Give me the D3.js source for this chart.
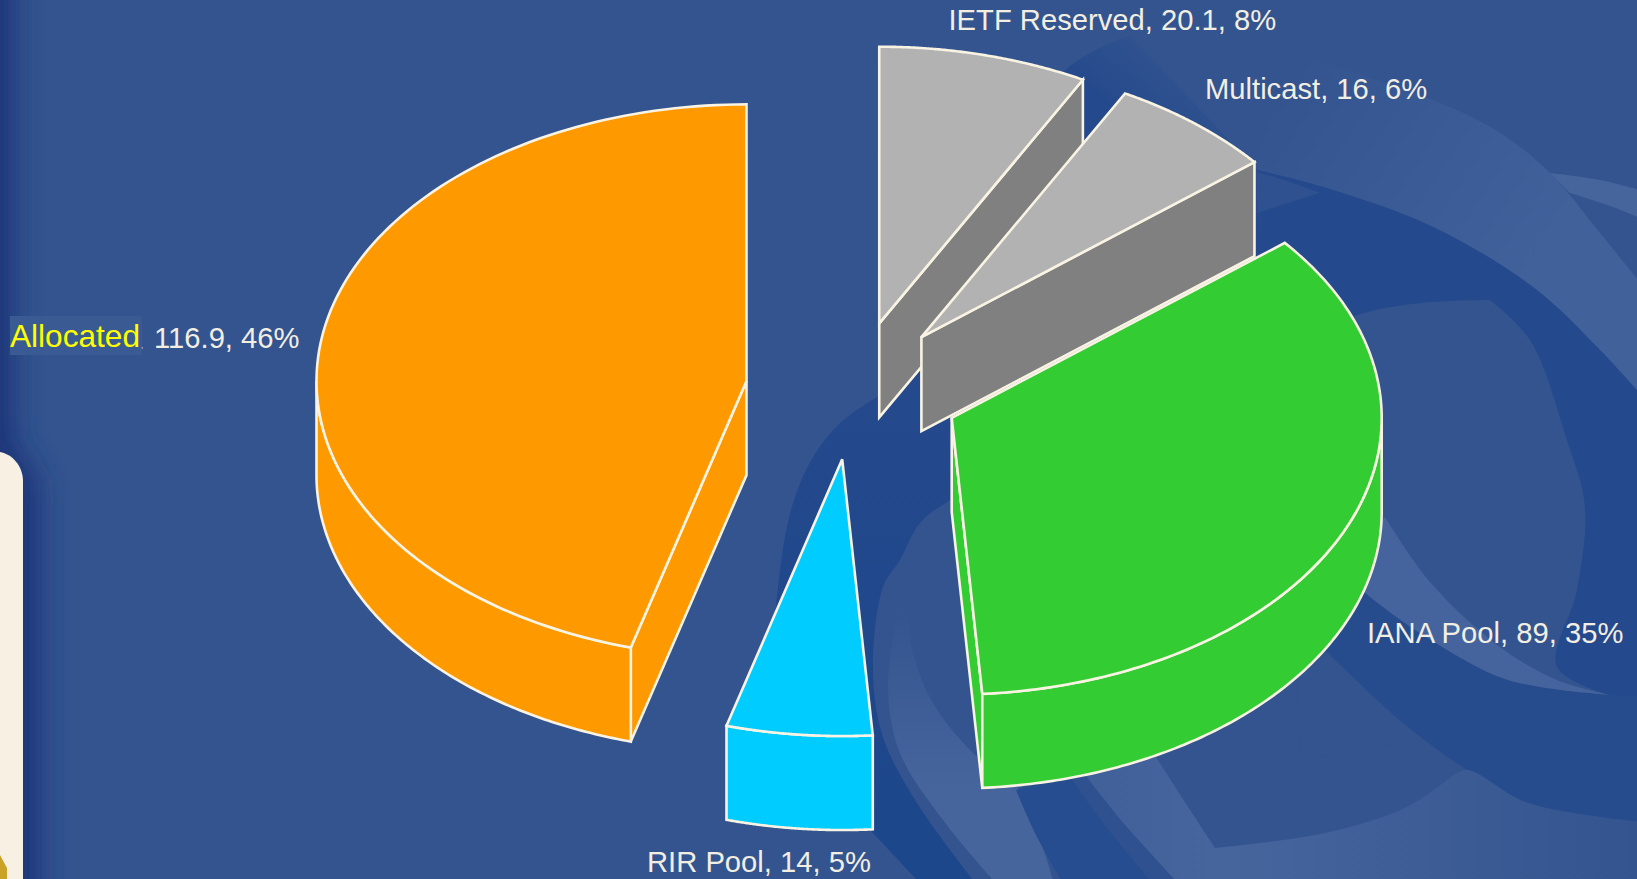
<!DOCTYPE html>
<html>
<head>
<meta charset="utf-8">
<style>
html,body{margin:0;padding:0;background:#33548F;overflow:hidden}
svg{display:block}
text{font-family:"Liberation Sans",Arial,sans-serif}
</style>
<script src="https://d3js.org/d3.v7.min.js"></script>
</head>
<body>
<svg id="c" width="1637" height="879"></svg>
<script>
// ---- data ----
const categories = ["IETF Reserved", "Multicast", "IANA Pool", "RIR Pool", "Allocated"];
const values     = [20.1, 16, 89, 14, 116.9];
const percents   = [8, 6, 35, 5, 46];
const topColors  = ["#B2B2B2", "#B2B2B2", "#33CC33", "#00CCFF", "#FF9900"];
const sideColors = ["#808080", "#808080", "#33CC33", "#00CCFF", "#FF9900"];

// ---- layout ----
const W = 1637, H = 879;
const cx = 853, cy = 390.5, rx = 430, ry = 276.7, depth = 94, explode = 0.25;
const stroke = "#F8F3E3", strokeW = 2.6, textColor = "#F2EEE2";
const fontSize = 29.2;
const labelPos = [[948.5, 30], [1205, 99], [1367, 643], [647, 872], [154, 348]];
const drawOrder = [0, 1, 4, 3, 2];

const svg = d3.select("#c");
const defs = svg.append("defs");
const gradient = (id, x1, y1, x2, y2, stops) => {
  const g = defs.append("linearGradient").attr("id", id).attr("gradientUnits", "userSpaceOnUse")
    .attr("x1", x1).attr("y1", y1).attr("x2", x2).attr("y2", y2);
  stops.forEach(s => g.append("stop").attr("offset", s[0]).attr("stop-color", s[1]).attr("stop-opacity", s[2] === undefined ? 1 : s[2]));
};
gradient("wedge", 1190, 60, 1130, 130, [[0, "#24498C", 0], [1, "#24498C", 1]]);
gradient("band", 1300, 60, 1560, 230, [[0, "#41619B", 0], [1, "#41619B", 1]]);
gradient("l2", 0, 610, 0, 790, [[0, "#47659D", 0], [1, "#47659D", 1]]);
gradient("la", 1083, 0, 1637, 0, [[0, "#40609A", 1], [0.25, "#47659D", 1], [1, "#33548F", 1]]);
gradient("ring", 0, 400, 0, 860, [[0, "#24498C", 1], [1, "#1C478B", 1]]);
const blur = defs.append("filter").attr("id", "soft").attr("x", "-100%").attr("width", "300%");
blur.append("feGaussianBlur").attr("stdDeviation", 14);

// ---- background ----
svg.append("rect").attr("width", W).attr("height", H).attr("fill", "#33548F");
const smooth = d3.line().curve(d3.curveCatmullRom.alpha(0.5));
const shape = segs => segs.map((s, i) => {
  const d = s.length > 2 ? smooth(s) : d3.line()(s);
  return i ? d.replace(/^M/, "L") : d;
}).join("") + "Z";

const decor = [
  // dark sweep behind the grey slices
  ["url(#wedge)", [[[877,397],[960,270],[1060,75],[1130,35]], [[1130,35],[1257,170]], [[1257,170],[1300,400]], [[1300,400],[960,420]], [[960,420],[877,397]]]],
  // light band at the top right
  ["url(#band)", [[[1280,50],[1433,100],[1500,133],[1550,173],[1600,233],[1650,295]], [[1650,295],[1650,405]], [[1650,405],[1600,350],[1533,287],[1433,227],[1333,190],[1257,170]], [[1257,170],[1280,50]]]],
  ["#46659D", [[[1550,173],[1600,180],[1650,193]], [[1650,193],[1650,222]], [[1650,222],[1610,206],[1570,193]], [[1570,193],[1550,173]]]],
  // dark upper ring
  ["#24498C", [[[1257,170],[1333,190],[1433,227],[1533,287],[1600,350],[1650,405]], [[1650,405],[1650,700]], [[1650,700],[1300,700]], [[1300,700],[1257,170]]]],
  ["#2F5190", [[[1257,172],[1290,182],[1320,193]], [[1320,193],[1257,213]], [[1257,213],[1257,172]]]],
  // base-coloured inner blob
  ["#33548F", [[[1290,345],[1357,315],[1420,303],[1490,300]], [[1490,300],[1530,340],[1567,440],[1585,507],[1577,590],[1557,667],[1610,695]], [[1610,695],[1650,700]], [[1650,700],[1300,760]], [[1300,760],[1290,345]]]],
  // dark lower band
  ["#264C8D", [[[1325,650],[1402,722],[1467,770],[1528,803],[1650,823]], [[1650,823],[1650,696]], [[1650,696],[1610,695]], [[1610,695],[1508,680],[1431,640],[1374,600],[1330,560]], [[1330,560],[1325,650]]]],
  // light crescent inside the lower band
  ["#45639C", [[[1385,517],[1431,583],[1500,647],[1557,680],[1610,695]], [[1610,695],[1508,680],[1431,640],[1374,600],[1340,570]], [[1340,570],[1385,517]]]],
  // light lower right
  ["url(#la)", [[[1083,777],[1125,825],[1175,880]], [[1175,880],[1650,880]], [[1650,880],[1650,823]], [[1650,823],[1528,803],[1467,770],[1451,777]], [[1451,777],[1407,807],[1325,833],[1215,848]], [[1215,848],[1190,810],[1156,757]], [[1156,757],[1083,777]]]],
  // dark lower-left ring
  ["url(#ring)", [[[877,397],[840,423],[813,457],[793,503],[780,570],[775,650],[790,730],[830,790],[870,830],[917,880]], [[917,880],[973,880]], [[973,880],[917,803],[883,737],[873,670],[883,587],[900,560],[920,523],[950,500],[1000,470]], [[1000,470],[960,380]], [[960,380],[877,397]]]],
  ["url(#l2)", [[[905,585],[900,603],[888,687],[900,753],[943,820],[993,880]], [[993,880],[1053,880]], [[1053,880],[1017,787],[973,753],[933,703],[913,653],[907,607],[905,585]]]],
  ["#264D8F", [[[1016,790],[1036,835],[1061,880]], [[1061,880],[1150,880]], [[1150,880],[1105,825],[1069,775]], [[1069,775],[1016,790]]]],
  ["#2F5190", [[[1069,775],[1105,825],[1150,880]], [[1150,880],[1175,880]], [[1175,880],[1125,825],[1083,772]], [[1083,772],[1069,775]]]]
];
svg.append("g").selectAll("path").data(decor).join("path")
  .attr("d", d => shape(d[1])).attr("fill", d => d[0]);

// dark soft edge and the cream panel on the left
svg.append("path").attr("fill", "#1F3479").attr("filter", "url(#soft)")
  .attr("d", d3.line()([[-60,-60],[14,-60],[14,440],[40,480],[40,950],[-60,950]]) + "Z");
svg.append("path").attr("fill", "#F8F1E3")
  .attr("d", "M0," + H + "V452C12,454 23,466 23,481V" + H + "Z");
svg.append("path").attr("fill", "#C9A227")
  .attr("d", d3.line()([[0,855],[7,868],[7,879],[0,879]]) + "Z");

// ---- pie ----
const pie = d3.pie().sort(null).value(d => d).startAngle(0).endAngle(2 * Math.PI);
const arcs = pie(values);
const xS = d3.scaleLinear().domain([-1, 1]).range([-rx, rx]);
const yS = d3.scaleLinear().domain([-1, 1]).range([-ry, ry]);
const line = d3.line();
const rim = (a0, a1, ox, oy) => d3.range(0, 121).map(i => {
  const a = a0 + (a1 - a0) * i / 120;
  return [ox + xS(Math.sin(a)), oy + yS(-Math.cos(a))];
});

const g = svg.append("g").attr("stroke", stroke).attr("stroke-width", strokeW)
  .attr("stroke-linejoin", "miter").attr("stroke-miterlimit", 3);

drawOrder.forEach(i => {
  const a = arcs[i], mid = (a.startAngle + a.endAngle) / 2;
  const ox = cx + explode * xS(Math.sin(mid));
  const oy = cy + explode * yS(-Math.cos(mid));
  const side = sideColors[i];
  const wall = ang => {
    const p = [ox + xS(Math.sin(ang)), oy + yS(-Math.cos(ang))];
    g.append("path").attr("fill", side)
      .attr("d", line([[ox, oy], [ox, oy + depth], [p[0], p[1] + depth], p]) + "Z");
  };
  if (Math.sin(a.startAngle) < -1e-6) wall(a.startAngle);
  if (Math.sin(a.endAngle) > 1e-6) wall(a.endAngle);
  const s = Math.max(a.startAngle, Math.PI / 2), e = Math.min(a.endAngle, 3 * Math.PI / 2);
  if (e > s) {
    const r = rim(s, e, ox, oy);
    const low = r.map(p => [p[0], p[1] + depth]).reverse();
    g.append("path").attr("fill", side).attr("d", line(r.concat(low)) + "Z");
  }
  g.append("path").attr("fill", topColors[i])
    .attr("d", line([[ox, oy]].concat(rim(a.startAngle, a.endAngle, ox, oy))) + "Z");
});

// ---- labels ----
const ia = categories.indexOf("Allocated");
svg.append("rect").attr("x", 10).attr("y", 316).attr("width", 132).attr("height", 39).attr("fill", "#3A5A94");
const lab = svg.append("g").attr("font-size", fontSize).attr("fill", textColor);
categories.forEach((c, i) => {
  if (i === ia) return;
  lab.append("text").attr("x", labelPos[i][0]).attr("y", labelPos[i][1])
    .text(`${c}, ${values[i]}, ${percents[i]}%`);
});
lab.append("text").attr("x", 10).attr("y", 347).attr("font-size", 31.6).attr("fill", "#FFFF00").text(categories[ia]);
lab.append("text").attr("x", 141).attr("y", labelPos[ia][1]).attr("font-size", 8).text(",");
lab.append("text").attr("x", labelPos[ia][0]).attr("y", labelPos[ia][1])
  .text(`${values[ia]}, ${percents[ia]}%`);
</script>
</body>
</html>
